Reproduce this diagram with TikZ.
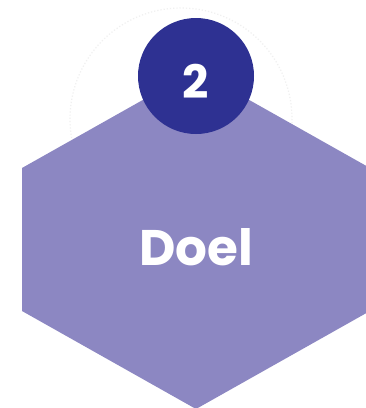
\documentclass[tikz,border=0pt]{standalone}
\usepackage{fontspec}
\setmainfont{Poppins}
\definecolor{hexfill}{HTML}{8C87C2}
\definecolor{navy}{HTML}{2E3192}
\begin{document}
\begin{tikzpicture}[x=1pt,y=-1pt,
  lbl/.style={text=white,font=\bfseries,inner sep=0pt,anchor=base}]
\useasboundingbox (0,0) rectangle (366,408);
\clip (0,0) rectangle (366,408);
\fill[white] (0,0) rectangle (366,408);
% faint dotted ring
\draw[gray!12,dotted,line width=1.2pt] (181,119) circle[radius=111];
% hexagon
\fill[hexfill] (196,70) -- (370,168) -- (370,311) -- (196,409) -- (22,311) -- (22,168) -- cycle;
% number badge
\fill[navy] (196,76) circle[radius=58];
\node[lbl,font=\bfseries\fontsize{46}{46}\selectfont] (num) at (196,98) {2};
\node[lbl,font=\bfseries\fontsize{50}{50}\selectfont] (title) at (196,265) {Doel};
\end{tikzpicture}
\end{document}
